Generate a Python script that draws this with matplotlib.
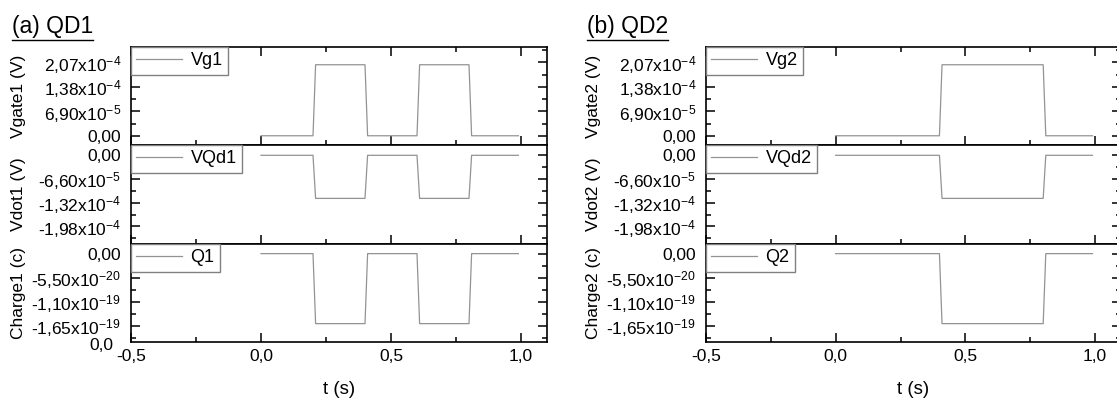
import matplotlib
matplotlib.use('Agg')
import matplotlib.pyplot as plt
from matplotlib.ticker import FixedLocator, FixedFormatter
from matplotlib.lines import Line2D

plt.rcParams['font.family'] = ['Liberation Sans', 'DejaVu Sans']
plt.rcParams['mathtext.fontset'] = 'custom'
plt.rcParams['mathtext.rm'] = 'Liberation Sans'
plt.rcParams['mathtext.default'] = 'regular'

# time samples and signals
t_qd1 = [0.0, 0.20, 0.21, 0.40, 0.41, 0.60, 0.61, 0.80, 0.81, 0.99]
vg1 = [0, 0, 2.0e-4, 2.0e-4, 0, 0, 2.0e-4, 2.0e-4, 0, 0]
vqd1 = [0, 0, -1.2e-4, -1.2e-4, 0, 0, -1.2e-4, -1.2e-4, 0, 0]
q1 = [0, 0, -1.6e-19, -1.6e-19, 0, 0, -1.6e-19, -1.6e-19, 0, 0]

t_qd2 = [0.0, 0.40, 0.41, 0.80, 0.81, 0.99]
vg2 = [0, 0, 2.0e-4, 2.0e-4, 0, 0]
vqd2 = [0, 0, -1.2e-4, -1.2e-4, 0, 0]
q2 = [0, 0, -1.6e-19, -1.6e-19, 0, 0]

# ticks
x_ticks = [-0.5, 0.0, 0.5, 1.0]
x_labels = ['-0,5', '0,0', '0,5', '1,0']
vg_ticks = [0, 6.9e-5, 1.38e-4, 2.07e-4]
vg_labels = ['0,00', '6,90x10$^{-5}$', '1,38x10$^{-4}$', '2,07x10$^{-4}$']
vd_ticks = [0, -6.6e-5, -1.32e-4, -1.98e-4]
vd_labels = ['0,00', '-6,60x10$^{-5}$', '-1,32x10$^{-4}$', '-1,98x10$^{-4}$']
q_ticks = [0, -5.5e-20, -1.1e-19, -1.65e-19]
q_labels = ['0,00', '-5,50x10$^{-20}$', '-1,10x10$^{-19}$', '-1,65x10$^{-19}$']

W, H = 1117, 403
fig = plt.figure(figsize=(W / 100, H / 100), dpi=100)

line_col = '#939393'
fs = 12.5

def frac(x0, y_top, x1, y_bot):
    return [x0 / W, 1 - y_bot / H, (x1 - x0) / W, (y_bot - y_top) / H]

def minor_of(ticks):
    step = ticks[1] - ticks[0]
    return [v + step / 2 for v in [ticks[0] - step] + list(ticks)]

def column(x0, x1, t, sig, names, ylabels, title, corner_label):
    tops = [47, 145, 244]
    bots = [145, 244, 342]
    specs = [(vg_ticks, vg_labels, (-2.6e-5, 2.5e-4)),
             (vd_ticks, vd_labels, (-2.47e-4, 2.87e-5)),
             (q_ticks, q_labels, (-2.02e-19, 2.2e-20))]
    axes = []
    for i in range(3):
        ax = fig.add_axes(frac(x0, tops[i], x1, bots[i]))
        ax.plot(t, sig[i], color=line_col, lw=0.9, label=names[i])
        ax.set_xlim(-0.5, 1.1)
        ax.set_ylim(*specs[i][2])
        ax.yaxis.set_major_locator(FixedLocator(specs[i][0]))
        ax.yaxis.set_major_formatter(FixedFormatter(specs[i][1]))
        ax.yaxis.set_minor_locator(FixedLocator(minor_of(specs[i][0])))
        ax.xaxis.set_major_locator(FixedLocator(x_ticks))
        ax.xaxis.set_minor_locator(FixedLocator([-0.25, 0.25, 0.75]))
        ax.xaxis.set_major_formatter(FixedFormatter(x_labels))
        ax.tick_params(which='both', direction='in', right=True, top=(i == 0),
                       width=1.1, labelsize=fs)
        ax.tick_params(axis='y', pad=7)
        ax.tick_params(axis='x', pad=5)
        ax.tick_params(which='major', length=6.5)
        ax.tick_params(which='minor', length=3.5)
        if i < 2:
            ax.tick_params(labelbottom=False)
        for s in ax.spines.values():
            s.set_linewidth(1.2)
        ax.set_ylabel(ylabels[i], fontsize=fs)
        ax.yaxis.set_label_coords(-0.253, 0.5)
        leg = ax.legend(loc='upper left', frameon=True, fancybox=False,
                        edgecolor='#808080', framealpha=1, borderaxespad=0,
                        handlelength=2.5, handletextpad=0.5, borderpad=0.3,
                        fontsize=13)
        leg.get_frame().set_linewidth(1.0)
        axes.append(ax)
    axes[2].set_xlabel('t (s)', fontsize=13.5, labelpad=12)
    if corner_label:
        fig.text((x0 - 18) / W, 1 - 346 / H, corner_label, fontsize=fs,
                 ha='right', va='center')
    txt = fig.text((x0 - 119) / W, 1 - 33 / H, title, fontsize=16.5,
                   ha='left', va='baseline')
    return txt

t1 = column(131, 547, t_qd1, [vg1, vqd1, q1], ['Vg1', 'VQd1', 'Q1'],
            ['Vgate1 (V)', 'Vdot1 (V)', 'Charge1 (c)'], '(a) QD1', '0,0')
t2 = column(706, 1121, t_qd2, [vg2, vqd2, q2], ['Vg2', 'VQd2', 'Q2'],
            ['Vgate2 (V)', 'Vdot2 (V)', 'Charge2 (c)'], '(b) QD2', None)

# underline the panel titles
fig.canvas.draw()
for txt in (t1, t2):
    bb = txt.get_window_extent()
    y = (bb.y0 - 2) / H
    fig.add_artist(Line2D([bb.x0 / W, bb.x1 / W], [y, y], color='black',
                          lw=1.0, transform=fig.transFigure))

fig.savefig('out.png', dpi=100)
